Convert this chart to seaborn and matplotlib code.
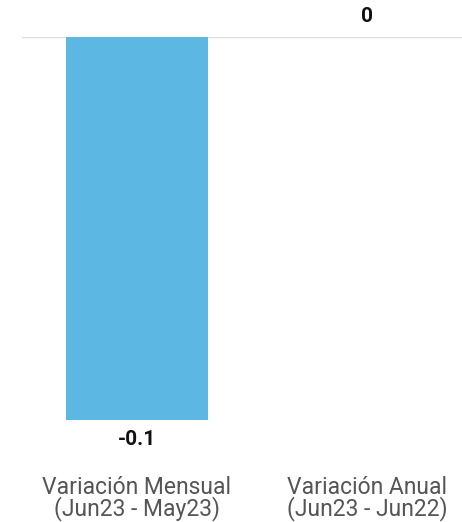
import matplotlib
matplotlib.use("Agg")
import matplotlib.pyplot as plt
import seaborn as sns
import pandas as pd

categories = ["Variación Mensual\n(Jun23 - May23)", "Variación Anual\n(Jun23 - Jun22)"]
values = [-0.1, 0.0]
value_labels = ["-0.1", "0"]

sns.set_style("white")
plt.rcParams["font.family"] = ["Roboto", "DejaVu Sans"]

df = pd.DataFrame({"categoria": categories, "valor": values})

fig = plt.figure(figsize=(4.62, 5.22), dpi=100)
ax = fig.add_axes([22 / 462, 102 / 522, 440 / 462, 383 / 522])
sns.barplot(data=df, x="categoria", y="valor", color="#5DB7E3", saturation=1,
            width=0.62, linewidth=0, ax=ax)

ax.set_xlim(-0.5, 440 / 230 - 0.5)
ax.set_ylim(-0.1, 0)
ax.axhline(0, color="#dddddd", lw=1, zorder=0)

for i, (v, lab) in enumerate(zip(values, value_labels)):
    if v < 0:
        ax.annotate(lab, (i, v), xytext=(0, -7), textcoords="offset points",
                    ha="center", va="top", fontsize=15, fontweight="bold", color="#111111")
    else:
        ax.annotate(lab, (i, v), xytext=(0, 8), textcoords="offset points",
                    ha="center", va="bottom", fontsize=15, fontweight="bold", color="#111111",
                    annotation_clip=False)

for s in ax.spines.values():
    s.set_visible(False)
ax.set_yticks([])
ax.set_xlabel("")
ax.set_ylabel("")
ax.tick_params(axis="x", length=0, pad=40, labelsize=16.5, labelcolor="#555555")
for t in ax.get_xticklabels():
    t.set_linespacing(0.88)

fig.savefig("out.png", dpi=100)
